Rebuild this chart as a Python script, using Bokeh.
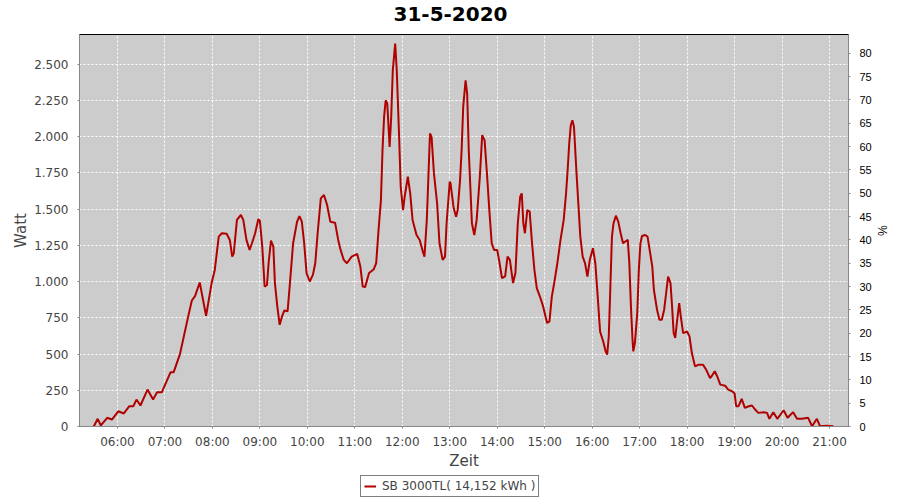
from bokeh.plotting import figure
from bokeh.models import Range1d, LinearAxis, FixedTicker, Legend, LegendItem, ColumnDataSource
from bokeh.core.properties import value
from bokeh.layouts import column
from bokeh.embed import file_html
from bokeh.resources import INLINE

title_text = "31-5-2020"
series_name = "SB 3000TL( 14,152 kWh )"
x_label = "Zeit"
y_label = "Watt"
y2_label = "%"

times = ["05:30", "05:35", "05:39", "05:47", "05:53", "06:01", "06:08", "06:15", "06:20", "06:24",
         "06:29", "06:38", "06:45", "06:50", "06:56", "07:07", "07:11", "07:19", "07:29", "07:34",
         "07:38", "07:44", "07:52", "07:59", "08:03", "08:08", "08:12", "08:18", "08:22", "08:25",
         "08:27", "08:31", "08:36", "08:39", "08:43", "08:47", "08:50", "08:54", "08:58", "09:00",
         "09:03", "09:06", "09:09", "09:11", "09:14", "09:17", "09:19", "09:22", "09:25", "09:28",
         "09:31", "09:35", "09:38", "09:42", "09:47", "09:50", "09:53", "09:56", "09:59", "10:03",
         "10:07", "10:10", "10:13", "10:17", "10:21", "10:25", "10:29", "10:35", "10:39", "10:42",
         "10:46", "10:50", "10:56", "11:03", "11:07", "11:10", "11:13", "11:18", "11:24", "11:27",
         "11:30", "11:33", "11:35", "11:37", "11:39", "11:41", "11:44", "11:46", "11:48", "11:51",
         "11:53", "11:56", "11:58", "12:01", "12:03", "12:07", "12:10", "12:13", "12:18", "12:22",
         "12:26", "12:28", "12:31", "12:35", "12:37", "12:40", "12:44", "12:47", "12:51", "12:54",
         "12:56", "13:00", "13:01", "13:05", "13:08", "13:10", "13:13", "13:15", "13:17", "13:20",
         "13:22", "13:24", "13:26", "13:28", "13:31", "13:34", "13:38", "13:41", "13:44", "13:47",
         "13:50", "13:53", "13:56", "14:00", "14:03", "14:06", "14:10", "14:13", "14:16", "14:20",
         "14:23", "14:26", "14:29", "14:31", "14:33", "14:35", "14:38", "14:41", "14:44", "14:47",
         "14:50", "14:54", "14:58", "15:03", "15:06", "15:09", "15:12", "15:16", "15:20", "15:24",
         "15:27", "15:29", "15:31", "15:33", "15:35", "15:37", "15:40", "15:43", "15:45", "15:48",
         "15:51", "15:54", "15:57", "16:01", "16:04", "16:07", "16:10", "16:14", "16:17", "16:19",
         "16:21", "16:23", "16:25", "16:27", "16:30", "16:33", "16:36", "16:39", "16:42", "16:45",
         "16:47", "16:49", "16:51", "16:52", "16:54", "16:57", "16:59", "17:01", "17:03", "17:07",
         "17:10", "17:12", "17:16", "17:18", "17:22", "17:25", "17:28", "17:31", "17:34", "17:36",
         "17:39", "17:41", "17:43", "17:45", "17:47", "17:50", "17:52", "17:55", "18:00", "18:03",
         "18:06", "18:10", "18:14", "18:20", "18:24", "18:29", "18:31", "18:35", "18:38", "18:42",
         "18:48", "18:52", "18:57", "19:00", "19:02", "19:05", "19:09", "19:13", "19:18", "19:22",
         "19:26", "19:30", "19:37", "19:41", "19:44", "19:49", "19:54", "20:02", "20:07", "20:14",
         "20:19", "20:25", "20:33", "20:38", "20:44", "20:48", "20:57", "21:05"]

watts = [0, 53, 7, 60, 48, 105, 90, 140, 140, 186,
         145, 255, 186, 236, 236, 374, 375, 500, 750, 870,
         900, 994, 764, 990, 1081, 1311, 1334, 1330, 1288, 1173,
         1196, 1426, 1460, 1426, 1288, 1219, 1265, 1334, 1430, 1420,
         1242, 966, 977, 1127, 1283, 1242, 990, 829, 702, 760,
         801, 795, 990, 1265, 1414, 1453, 1414, 1265, 1059, 1001,
         1047, 1127, 1334, 1575, 1598, 1529, 1414, 1407, 1288, 1219,
         1150, 1127, 1173, 1191, 1104, 966, 962, 1059, 1086, 1127,
         1357, 1563, 1908, 2137, 2252, 2229, 1930, 2137, 2459, 2643,
         2459, 1999, 1655, 1494, 1586, 1724, 1609, 1426, 1322, 1288,
         1207, 1173, 1426, 2023, 1999, 1747, 1541, 1265, 1150, 1173,
         1403, 1690, 1678, 1506, 1448, 1494, 1701, 1908, 2206, 2390,
         2298, 1908, 1655, 1403, 1322, 1426, 1724, 2011, 1977, 1747,
         1494, 1265, 1219, 1219, 1127, 1024, 1036, 1173, 1150, 990,
         1059, 1403, 1586, 1609, 1403, 1334, 1494, 1483, 1265, 1081,
         955, 897, 829, 714, 726, 897, 990, 1127, 1288, 1426,
         1609, 1770, 1954, 2080, 2114, 2069, 1770, 1494, 1311, 1173,
         1127, 1035, 1150, 1231, 1127, 897, 656, 587, 519, 496,
         622, 966, 1311, 1403, 1455, 1414, 1334, 1265, 1277, 1288,
         1127, 829, 599, 519, 576, 783, 1081, 1265, 1315, 1322,
         1311, 1242, 1104, 944, 806, 737, 737, 806, 944, 1035,
         990, 829, 645, 611, 714, 852, 760, 645, 656, 622,
         507, 415, 426, 427, 393, 335, 347, 381, 347, 289,
         282, 255, 243, 228, 140, 140, 191, 129, 140, 145,
         117, 94, 99, 94, 53, 99, 53, 112, 60, 99,
         53, 53, 60, 2, 53, 2, 5, 2]

watt_ticks = [0, 250, 500, 750, 1000, 1250, 1500, 1750, 2000, 2250, 2500]
watt_labels = ["0", "250", "500", "750", "1.000", "1.250", "1.500", "1.750", "2.000", "2.250", "2.500"]
hour_ticks = [6, 7, 8, 9, 10, 11, 12, 13, 14, 15, 16, 17, 18, 19, 20, 21]
hour_labels = ["06:00", "07:00", "08:00", "09:00", "10:00", "11:00", "12:00", "13:00",
               "14:00", "15:00", "16:00", "17:00", "18:00", "19:00", "20:00", "21:00"]
pct_ticks = [0, 5, 10, 15, 20, 25, 30, 35, 40, 45, 50, 55, 60, 65, 70, 75, 80]
pct_labels = ["0", "5", "10", "15", "20", "25", "30", "35", "40", "45", "50", "55", "60", "65", "70", "75", "80"]

hours = [int(t[:2]) + int(t[3:]) / 60.0 for t in times]
src = ColumnDataSource(data=dict(h=hours, w=watts))

FONT = "DejaVu Sans"
GRAY = "#444444"
AXIS_GRAY = "#888888"
LINE_RED = "#B00000"


def strip(height):
    s = figure(width=900, height=height, output_backend="svg", toolbar_location=None,
               x_range=Range1d(0, 900), y_range=Range1d(0, height),
               min_border_left=0, min_border_right=0, min_border_top=0, min_border_bottom=0)
    s.axis.visible = False
    s.grid.visible = False
    s.outline_line_color = None
    s.background_fill_color = "white"
    s.border_fill_color = "white"
    return s


# title strip
pt = strip(30)
pt.x_range = Range1d(79, 848)
pt.text(x=[450], y=[17], text=[title_text], text_align="center", text_baseline="middle",
        text_font=value(FONT), text_font_size="20px", text_font_style="bold", text_color="black")

# main chart
p = figure(width=900, height=442, output_backend="svg", toolbar_location=None,
           x_range=Range1d(5.2, 21.4), y_range=Range1d(0, 2706),
           min_border_left=79, min_border_right=52, min_border_top=4, min_border_bottom=45)

p.background_fill_color = "#CCCCCC"
p.border_fill_color = "white"
p.outline_line_color = "black"
p.outline_line_width = 1

p.xgrid.ticker = FixedTicker(ticks=hour_ticks)
p.ygrid.ticker = FixedTicker(ticks=watt_ticks)
for g in (p.xgrid, p.ygrid):
    g.grid_line_color = "white"
    g.grid_line_dash = "2 2"
    g.grid_line_width = 1

xa = p.xaxis[0]
xa.ticker = FixedTicker(ticks=hour_ticks)
xa.major_label_overrides = {t: l for t, l in zip(hour_ticks, hour_labels)}
xa.axis_label = x_label

ya = p.yaxis[0]
ya.ticker = FixedTicker(ticks=watt_ticks)
ya.major_label_overrides = {t: l for t, l in zip(watt_ticks, watt_labels)}
ya.axis_label = y_label

for ax in (xa, ya):
    ax.axis_line_color = AXIS_GRAY
    ax.major_tick_line_color = AXIS_GRAY
    ax.major_tick_in = 0
    ax.major_tick_out = 2
    ax.minor_tick_line_color = None
    ax.major_label_text_font = FONT
    ax.major_label_text_font_size = "12px"
    ax.major_label_text_color = GRAY
    ax.axis_label_text_font = FONT
    ax.axis_label_text_font_size = "15px"
    ax.axis_label_text_font_style = "normal"
    ax.axis_label_text_color = GRAY

xa.major_label_standoff = 6
xa.axis_label_standoff = 0
ya.major_label_standoff = 9
ya.axis_label_standoff = 1

p.extra_y_ranges = {"pct": Range1d(0, 84)}
ra = LinearAxis(y_range_name="pct", ticker=FixedTicker(ticks=pct_ticks), axis_label=y2_label)
ra.major_label_overrides = {t: l for t, l in zip(pct_ticks, pct_labels)}
ra.axis_line_color = AXIS_GRAY
ra.major_tick_line_color = AXIS_GRAY
ra.major_tick_in = 0
ra.major_tick_out = 2
ra.minor_tick_line_color = None
ra.major_label_text_font = "Liberation Sans"
ra.major_label_text_font_size = "11px"
ra.major_label_text_color = "black"
ra.major_label_standoff = 9
ra.axis_label_text_font = "Liberation Sans"
ra.axis_label_text_font_size = "12px"
ra.axis_label_text_font_style = "normal"
ra.axis_label_text_color = "black"
ra.axis_label_standoff = 0
p.add_layout(ra, "right")

r = p.line("h", "w", source=src, line_color=LINE_RED, line_width=2)

# legend strip (its swatch renderer carries no drawable data)
pl = strip(28)
nan = float("nan")
rl = pl.line(x=[nan, nan], y=[nan, nan], line_color=LINE_RED, line_width=2)
legend = Legend(items=[LegendItem(label=series_name, renderers=[rl])],
                location=(281, 3), orientation="horizontal",
                border_line_color="black", border_line_width=1, background_fill_color="white",
                label_text_font=FONT, label_text_font_size="12px", label_text_color=GRAY,
                glyph_width=12, glyph_height=10, padding=3, margin=0, spacing=0,
                label_standoff=6, label_height=12)
pl.add_layout(legend, "center")

layout = column(pt, p, pl, spacing=0)
open("out.html", "w").write(file_html(layout, INLINE))
